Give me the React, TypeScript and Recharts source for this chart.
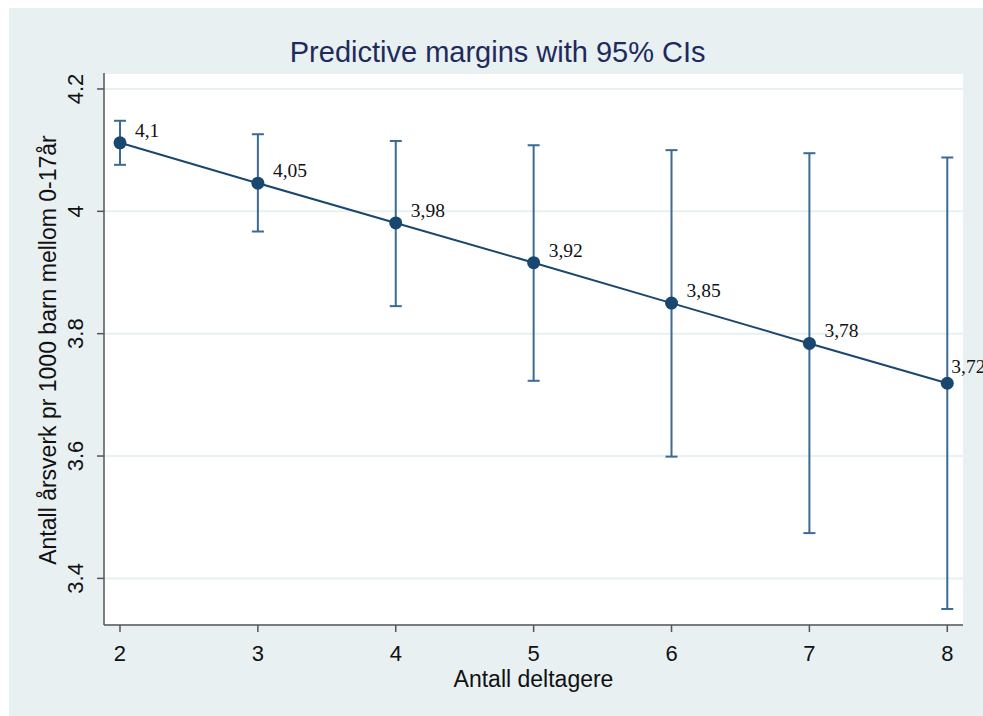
import React from 'react';
import { ComposedChart, Line, XAxis, YAxis, CartesianGrid, ErrorBar, LabelList } from 'recharts';

const participants = [2, 3, 4, 5, 6, 7, 8];
const margins = [4.112, 4.046, 3.981, 3.916, 3.85, 3.784, 3.719];
const ciLow = [4.076, 3.967, 3.845, 3.723, 3.599, 3.474, 3.35];
const ciHigh = [4.148, 4.126, 4.115, 4.108, 4.1, 4.095, 4.088];
const pointLabels = ['4,1', '4,05', '3,98', '3,92', '3,85', '3,78', '3,72'];
const xTicks = [2, 3, 4, 5, 6, 7, 8];
const yTicks = [3.4, 3.6, 3.8, 4, 4.2];
const yTickLabels = ['3.4', '3.6', '3.8', '4', '4.2'];

const data = participants.map((p, i) => ({
  x: p,
  y: margins[i],
  err: [margins[i] - ciLow[i], ciHigh[i] - margins[i]],
  label: pointLabels[i],
}));

const W = 974;
const H = 708;
const SANS = '"Liberation Sans", Arial, Helvetica, sans-serif';
const SERIF = '"Liberation Serif", "Times New Roman", serif';
const NAVY = '#1a476f';
const BG = '#e8f0f2';

const XTick = (props: any) => {
  const { x, payload } = props;
  return (
    <text x={x} y={653} textAnchor="middle" fontFamily={SANS} fontSize={22} fill="#111">
      {String(payload.value)}
    </text>
  );
};

const YTick = (props: any) => {
  const { x, y, payload } = props;
  const idx = yTicks.indexOf(payload.value);
  const txt = idx >= 0 ? yTickLabels[idx] : String(payload.value);
  return (
    <text transform={`translate(${x}, ${y}) rotate(-90)`} textAnchor="middle" fontFamily={SANS} fontSize={22} fill="#111">
      {txt}
    </text>
  );
};

const PointLabel = (props: any) => {
  const { x, y, value, index } = props;
  const last = index === data.length - 1 || value === pointLabels[pointLabels.length - 1];
  const dx = last ? 4 : 15;
  const dy = last ? -10 : -6;
  return (
    <text x={x + dx} y={y + dy} fontFamily={SERIF} fontSize={19.5} fill="#111">
      {value}
    </text>
  );
};

export default function App() {
  return (
    <>
      <style>{`html, body { margin: 0; padding: 0; overflow: hidden; background: #ffffff; }`}</style>
      <div style={{ position: 'fixed', left: 9, top: 8, right: 0, bottom: 0, background: BG, overflow: 'hidden' }}>
        <ComposedChart width={W} height={H} data={data} margin={{ top: 65, right: 20, bottom: 0, left: 0 }}>
          <CartesianGrid horizontal={true} vertical={false} fill="#ffffff" stroke={BG} strokeWidth={2} />
          <XAxis
            type="number"
            dataKey="x"
            domain={[1.884, 8.114]}
            ticks={xTicks}
            allowDataOverflow
            height={91}
            axisLine={{ stroke: '#555', strokeWidth: 1.5 }}
            tickLine={{ stroke: '#555', strokeWidth: 1.5 }}
            tickSize={7}
            tick={<XTick />}
            interval={0}
          />
          <YAxis
            type="number"
            domain={[3.3238, 4.2261]}
            ticks={yTicks}
            allowDataOverflow
            width={95}
            axisLine={{ stroke: '#555', strokeWidth: 1.5 }}
            tickLine={{ stroke: '#555', strokeWidth: 1.5 }}
            tickSize={7}
            tickMargin={14}
            tick={<YTick />}
            interval={0}
          />
          <Line
            type="linear"
            dataKey="y"
            stroke={NAVY}
            strokeWidth={2}
            isAnimationActive={false}
            dot={{ r: 6.5, fill: NAVY, stroke: 'none', strokeWidth: 0 }}
            activeDot={false}
          >
            <ErrorBar dataKey="err" direction="y" width={6} stroke="#3a6a95" strokeWidth={2} isAnimationActive={false} />
            <LabelList dataKey="label" content={<PointLabel />} />
          </Line>
        </ComposedChart>
        <svg width={W} height={H} style={{ position: 'absolute', left: 0, top: 0, pointerEvents: 'none' }}>
          <text x={488.7} y={54.3} textAnchor="middle" fontFamily={SANS} fontSize={29} fill="#1f2a5c">
            Predictive margins with 95% CIs
          </text>
          <text x={524.5} y={679} textAnchor="middle" fontFamily={SANS} fontSize={23} fill="#111">
            Antall deltagere
          </text>
          <text transform="translate(47, 342) rotate(-90)" textAnchor="middle" fontFamily={SANS} fontSize={23} fill="#111">
            Antall årsverk pr 1000 barn mellom 0-17år
          </text>
        </svg>
      </div>
    </>
  );
}
